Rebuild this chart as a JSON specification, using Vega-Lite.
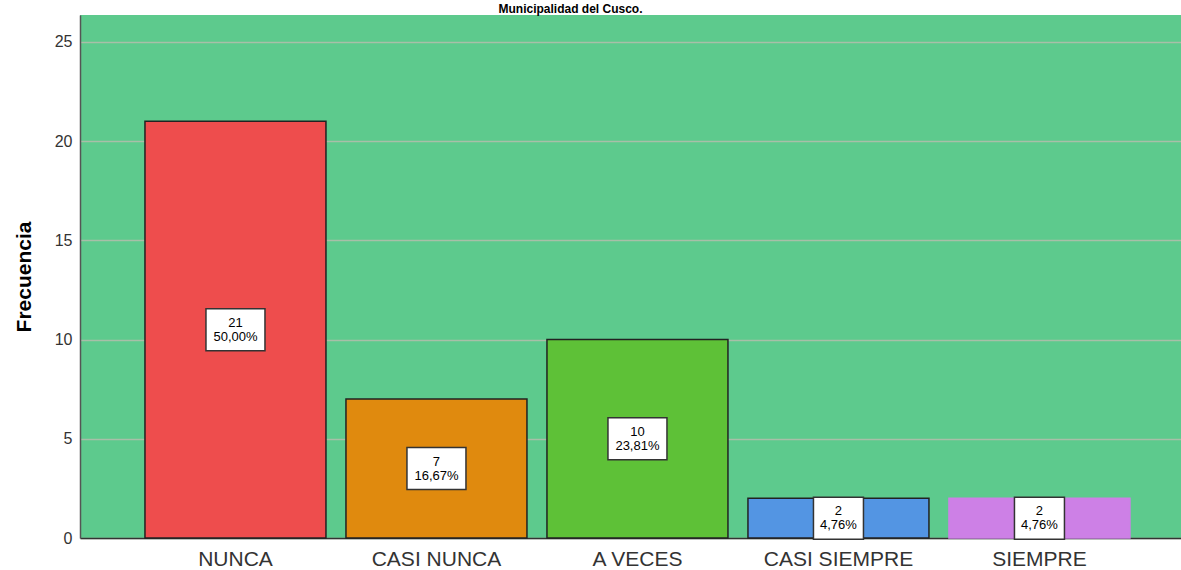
{
  "$schema": "https://vega.github.io/schema/vega-lite/v6.json",
  "width": 1101,
  "height": 523,
  "autosize": {"type": "none"},
  "padding": {"left": 80, "top": 15, "right": 0, "bottom": 32},
  "background": "white",
  "title": {
    "text": "Municipalidad del Cusco.",
    "font": "Liberation Sans",
    "fontSize": 12,
    "fontWeight": "bold",
    "color": "#000000",
    "anchor": "middle",
    "baseline": "bottom",
    "offset": 1,
    "dx": -60,
    "dy": 14
  },
  "config": {
    "view": {"fill": "#5DCA8D", "stroke": null},
    "font": "Liberation Sans"
  },
  "data": {
    "values": [
      {"categoria": "NUNCA", "frecuencia": 21, "porcentaje": "50,00%"},
      {"categoria": "CASI NUNCA", "frecuencia": 7, "porcentaje": "16,67%"},
      {"categoria": "A VECES", "frecuencia": 10, "porcentaje": "23,81%"},
      {"categoria": "CASI SIEMPRE", "frecuencia": 2, "porcentaje": "4,76%"},
      {"categoria": "SIEMPRE", "frecuencia": 2, "porcentaje": "4,76%"}
    ]
  },
  "encoding": {
    "x": {
      "field": "categoria",
      "type": "nominal",
      "sort": null,
      "scale": {"paddingInner": 0.0995, "paddingOuter": 0.2886, "align": 0.56},
      "axis": {
        "title": null,
        "labelAngle": 0,
        "labelFontSize": 21,
        "labelColor": "#333333",
        "labelPadding": 10,
        "ticks": false,
        "domainColor": "#333333",
        "domainWidth": 1.5,
        "grid": false
      }
    }
  },
  "layer": [
    {
      "mark": {"type": "bar", "strokeWidth": 1.5, "opacity": 1},
      "encoding": {
        "y": {
          "field": "frecuencia",
          "type": "quantitative",
          "scale": {"domain": [0, 26.36], "nice": false, "zero": true},
          "axis": {
            "title": "Frecuencia",
            "titleFontSize": 21,
            "titleFontWeight": "bold",
            "titleColor": "#000000",
            "titlePadding": 20,
            "values": [0, 5, 10, 15, 20, 25],
            "labelFontSize": 16,
            "labelColor": "#333333",
            "labelPadding": 8,
            "ticks": false,
            "domainColor": "#555555",
            "domainWidth": 1.5,
            "gridColor": "#A8BFA8",
            "gridWidth": 1.5
          }
        },
        "fill": {
          "field": "categoria",
          "type": "nominal",
          "scale": {
            "domain": ["NUNCA", "CASI NUNCA", "A VECES", "CASI SIEMPRE", "SIEMPRE"],
            "range": ["#EE4D4D", "#E08A0E", "#5EC137", "#5395E3", "#CD80E6"]
          },
          "legend": null
        },
        "stroke": {
          "field": "categoria",
          "type": "nominal",
          "scale": {
            "domain": ["NUNCA", "CASI NUNCA", "A VECES", "CASI SIEMPRE", "SIEMPRE"],
            "range": ["#222222", "#222222", "#222222", "#222222", "#CD80E6"]
          },
          "legend": null
        }
      }
    },
    {
      "transform": [{"filter": {"field": "frecuencia", "gt": 2}}],
      "mark": {
        "type": "point",
        "shape": "M-1,-0.712L1,-0.712L1,0.712L-1,0.712Z",
        "size": 3481,
        "filled": true,
        "fill": "#FFFFFF",
        "stroke": "#333333",
        "strokeWidth": 1.5,
        "opacity": 1,
        "fillOpacity": 1,
        "strokeOpacity": 1
      },
      "encoding": {
        "y": {
          "field": "frecuencia",
          "type": "quantitative",
          "scale": {"domain": [0, 52.72], "nice": false, "zero": true},
          "axis": null
        }
      }
    },
    {
      "transform": [{"filter": {"field": "frecuencia", "lte": 2}}],
      "mark": {
        "type": "point",
        "shape": "M-1,-0.84L1,-0.84L1,0.84L-1,0.84Z",
        "size": 2500,
        "filled": true,
        "fill": "#FFFFFF",
        "stroke": "#333333",
        "strokeWidth": 1.5,
        "opacity": 1,
        "fillOpacity": 1,
        "strokeOpacity": 1
      },
      "encoding": {
        "y": {
          "field": "frecuencia",
          "type": "quantitative",
          "scale": {"domain": [0, 52.72], "nice": false, "zero": true},
          "axis": null
        }
      }
    },
    {
      "mark": {"type": "text", "fontSize": 13, "color": "#000000", "baseline": "middle", "align": "center", "dy": -7},
      "encoding": {
        "y": {
          "field": "frecuencia",
          "type": "quantitative",
          "scale": {"domain": [0, 52.72], "nice": false, "zero": true},
          "axis": null
        },
        "text": {"field": "frecuencia", "type": "quantitative"}
      }
    },
    {
      "mark": {"type": "text", "fontSize": 13, "color": "#000000", "baseline": "middle", "align": "center", "dy": 7},
      "encoding": {
        "y": {
          "field": "frecuencia",
          "type": "quantitative",
          "scale": {"domain": [0, 52.72], "nice": false, "zero": true},
          "axis": null
        },
        "text": {"field": "porcentaje", "type": "nominal"}
      }
    }
  ],
  "resolve": {"scale": {"y": "independent"}}
}
